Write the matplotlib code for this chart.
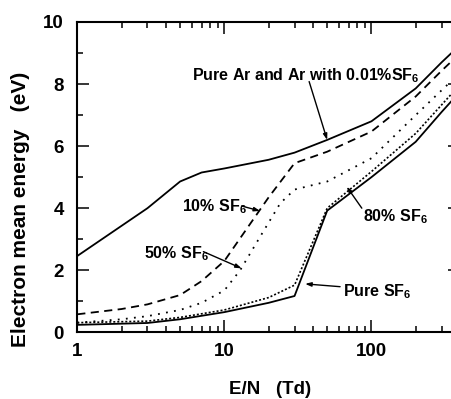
import matplotlib
matplotlib.use('Agg')
import matplotlib.pyplot as plt
from matplotlib.ticker import FixedLocator, NullFormatter

plt.rcParams['font.family'] = 'Liberation Sans'
plt.rcParams['font.weight'] = 'bold'
plt.rcParams['mathtext.fontset'] = 'custom'
plt.rcParams['mathtext.rm'] = 'Liberation Sans:bold'
plt.rcParams['mathtext.it'] = 'Liberation Sans:bold'
plt.rcParams['mathtext.bf'] = 'Liberation Sans:bold'

# data (E/N in Td, mean energy in eV)
ar_x = [1, 3, 5, 7, 10, 20, 30, 50, 100, 200, 300, 350]
ar_y = [2.46, 4.0, 4.86, 5.15, 5.28, 5.56, 5.79, 6.2, 6.8, 7.86, 8.7, 9.0]

sf10_x = [1, 2, 3, 5, 7, 10, 15, 20, 30, 50, 100, 200, 300, 350]
sf10_y = [0.58, 0.75, 0.9, 1.2, 1.65, 2.3, 3.5, 4.35, 5.45, 5.82, 6.47, 7.6, 8.43, 8.73]

sf50_x = [1, 2, 3, 5, 7, 10, 12.8, 17.5, 24, 30, 50, 100, 200, 300, 350]
sf50_y = [0.31, 0.42, 0.52, 0.72, 0.95, 1.35, 2.0, 3.08, 4.16, 4.6, 4.86, 5.61, 7.0, 7.8, 8.1]

sf80_x = [1, 3, 5, 10, 20, 30, 50, 100, 200, 300, 350]
sf80_y = [0.31, 0.36, 0.48, 0.72, 1.12, 1.52, 4.0, 5.18, 6.41, 7.33, 7.68]

sf_x = [1, 3, 5, 10, 20, 30, 50, 100, 200, 300, 350]
sf_y = [0.24, 0.3, 0.42, 0.65, 0.95, 1.17, 3.92, 5.0, 6.14, 7.1, 7.45]

W, H = 451, 399


def fpx(x, y):
    # pixel position (from top-left) -> figure fraction
    return (x / W, 1 - y / H)


fig = plt.figure(figsize=(W / 100, H / 100), dpi=100)
ax = fig.add_axes([77.3 / W, (H - 332.3) / H, (460 - 77.3) / W, (332.3 - 22) / H])

ax.plot(ar_x, ar_y, 'k-', lw=1.3)
ax.plot(sf10_x, sf10_y, 'k', lw=1.3, linestyle=(0, (4.5, 3)))
ax.plot(sf50_x, sf50_y, 'k', lw=1.3, linestyle=(0, (1, 3.5)))
ax.plot(sf80_x, sf80_y, 'k', lw=1.2, linestyle=(0, (1.2, 1.2)))
ax.plot(sf_x, sf_y, 'k-', lw=1.3)

ax.set_xscale('log')
ax.set_xlim(1, 400)
ax.set_ylim(0, 10)
ax.yaxis.set_major_locator(FixedLocator([0, 2, 4, 6, 8, 10]))
ax.yaxis.set_minor_locator(FixedLocator([1, 3, 5, 7, 9]))
ax.set_xticks([1, 10, 100])
ax.set_xticklabels(['1', '10', '100'])
ax.xaxis.set_minor_formatter(NullFormatter())

for s in ax.spines.values():
    s.set_linewidth(1.5)
ax.tick_params(which='both', direction='in', top=True, right=True, width=1.1)
ax.tick_params(which='major', length=8.6, labelsize=13.5)
ax.tick_params(which='minor', length=4.3)
ax.tick_params(axis='x', pad=7.5)
ax.tick_params(axis='y', pad=9.5)

fig.text(*fpx(270.5, 393.5), 'E/N   (Td)', ha='center', va='baseline', fontsize=13.5)
fig.text(*fpx(21, 209), 'Electron mean energy   (eV)', rotation=90,
         ha='center', va='center', fontsize=15)

fs = 11.5
fig.text(*fpx(191.7, 80), r'Pure Ar and Ar with 0.01%SF$_6$', fontsize=fs, va='baseline')
fig.text(*fpx(181.7, 211.7), r'10% SF$_6$', fontsize=fs, va='baseline')
fig.text(*fpx(144, 258.3), r'50% SF$_6$', fontsize=fs, va='baseline')
fig.text(*fpx(363.3, 221), r'80% SF$_6$', fontsize=fs, va='baseline')
fig.text(*fpx(343.3, 296.7), r'Pure SF$_6$', fontsize=fs, va='baseline')

arrows = [((37.7, 8.08), (50, 6.2)),
          ((13.1, 4.07), (17.5, 3.91)),
          ((7.2, 2.6), (13.1, 2.06)),
          ((86, 4.0), (68, 4.69)),
          ((61.2, 1.47), (35.4, 1.56))]
for start, tip in arrows:
    ax.annotate('', xy=tip, xytext=start,
                arrowprops=dict(arrowstyle='-|>,head_length=0.35,head_width=0.12',
                                color='k', lw=1.0, shrinkA=0, shrinkB=0))

fig.savefig('out.png', dpi=100)
